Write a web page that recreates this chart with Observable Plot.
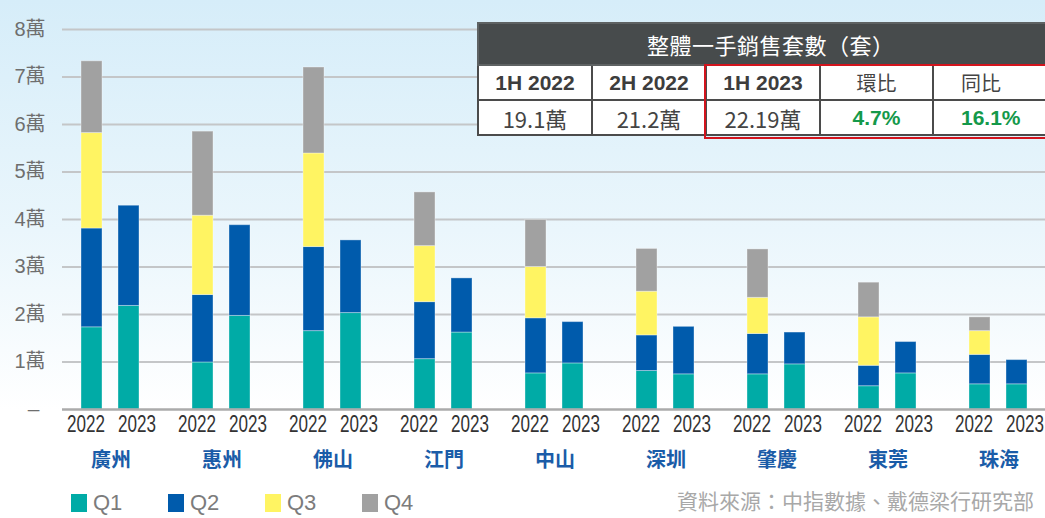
<!DOCTYPE html>
<html>
<head>
<meta charset="utf-8">
<script src="https://cdn.jsdelivr.net/npm/d3@7"></script>
<script src="https://cdn.jsdelivr.net/npm/@observablehq/plot@0.6"></script>
<style>
  html, body { margin: 0; padding: 0; overflow: hidden; }
  #page {
    position: relative; width: 1045px; height: 518px; overflow: hidden;
    background: linear-gradient(to bottom, #d6edf9 0px, #eaf6fc 230px, #ffffff 410px, #ffffff 518px);
    font-family: "Noto Sans CJK TC", sans-serif;
  }
  #chart { position: absolute; left: 0; top: 0; }
  #summary {
    position: absolute; left: 477px; top: 22px; border-collapse: collapse;
    background: #ffffff; table-layout: fixed; width: 600px;
  }
  #summary td { border: 2px solid #4b4b4b; text-align: center; padding: 0; color: #444; overflow: hidden; white-space: nowrap; }
  #summary .title td { background: #474b4c; color: #fff; height: 40px; font-size: 22px; letter-spacing: 0.5px; border-color: #5e6263; text-align: left; padding-left: 168px; }
  #summary .hdr td { height: 33px; font-size: 20px; }
  #summary .val td { height: 33px; font-size: 22px; }
  #summary .num { font-family: "Liberation Sans", Arial, sans-serif; font-size: 21px !important; }
  #summary .bold { font-weight: bold; color: #3d3d3d; }
  #summary .green { color: #14994a; font-weight: bold; font-family: "Liberation Sans", Arial, sans-serif; font-size: 21px !important; }
  #summary .last { text-align: left; padding-left: 27px; }
  #redbox { position: absolute; left: 704px; top: 64px; width: 400px; height: 75px; border: 2px solid #d3141d; box-sizing: border-box; pointer-events: none; }
  #legend { position: absolute; top: 491px; left: 0; height: 24px; }
  .lg { position: absolute; top: 0; display: flex; align-items: center; }
  .sw { width: 16px; height: 18px; display: inline-block; }
  .lt { margin-left: 6px; font-family: "Liberation Sans", sans-serif; font-size: 22px; color: #7c7c7c; line-height: 24px; }
  #source { position: absolute; right: 11px; top: 487px; font-size: 21px; color: #a8a8a8; line-height: 26px; }
</style>
</head>
<body>
<div id="page">
  <div id="chart"></div>
  <table id="summary"></table>
  <div id="redbox"></div>
  <div id="legend"></div>
  <div id="source"></div>
</div>
<script>
// ---- data (units: 套) ----
const cities = ["廣州", "惠州", "佛山", "江門", "中山", "深圳", "肇慶", "東莞", "珠海"];
const years = ["2022", "2023"];
const quarters = ["Q1", "Q2", "Q3", "Q4"];
const q1_2022 = [17300, 9900, 16500, 10600, 7600, 8100, 7400, 4900, 5300];
const q2_2022 = [20800, 14200, 17700, 12000, 11600, 7500, 8500, 4300, 6200];
const q3_2022 = [20100, 16700, 19700, 11800, 10800, 9200, 7600, 10200, 5000];
const q4_2022 = [15100, 17700, 18100, 11300, 9900, 9000, 10200, 7300, 2900];
const q1_2023 = [21800, 19700, 20300, 16200, 9700, 7400, 9500, 7600, 5300];
const q2_2023 = [21100, 19100, 15300, 11400, 8700, 10000, 6700, 6600, 5100];
const quarterColors = ["#00aba6", "#005bac", "#fff462", "#a1a1a1"];
const yTicks = [0, 10000, 20000, 30000, 40000, 50000, 60000, 70000, 80000];
const summaryTitle = "整體一手銷售套數（套）";
const summaryHeaders = ["1H 2022", "2H 2022", "1H 2023", "環比", "同比"];
const summaryValues = ["19.1萬", "21.2萬", "22.19萬", "4.7%", "16.1%"];
const sourceText = "資料來源：中指數據、戴德梁行研究部";

// ---- build table for Plot ----
const series2022 = [q1_2022, q2_2022, q3_2022, q4_2022];
const series2023 = [q1_2023, q2_2023];
const rows = [];
cities.forEach((c, i) => {
  series2022.forEach((s, qi) => rows.push({slot: c + "|2022", city: c, year: "2022", q: quarters[qi], value: s[i]}));
  series2023.forEach((s, qi) => rows.push({slot: c + "|2023", city: c, year: "2023", q: quarters[qi], value: s[i]}));
});
const slots = cities.flatMap(c => [c + "|2022", c + "|2023", c + "|gap"]);
const yearLabels = cities.flatMap(c => years.map(y => ({slot: c + "|" + y, year: y})));

const step = 37.85;
const x0 = 62;
const W = 1045, H = 475;

const font = "'Liberation Sans', 'Noto Sans CJK TC', sans-serif";

const chart = Plot.plot({
  width: W, height: H,
  marginLeft: x0, marginRight: 0, marginTop: 29, marginBottom: 66,
  style: {background: "transparent", overflow: "hidden", fontFamily: font},
  x: {domain: slots, range: [x0, x0 + slots.length * step], paddingInner: 0.43, paddingOuter: 0.215, axis: null},
  y: {domain: [0, 80000], axis: null},
  color: {domain: quarters, range: quarterColors},
  marks: [
    Plot.ruleY(yTicks.filter(d => d > 0), {stroke: "#c4c6c8", strokeWidth: 2}),
    Plot.barY(rows, {x: "slot", y: "value", fill: "q", stroke: "#ffffff", strokeOpacity: 0.35, strokeWidth: 1}),
    Plot.ruleY([0], {stroke: "#ababab", strokeWidth: 2.5}),
    Plot.text(yTicks.filter(d => d > 0), {y: d => d, text: d => (d / 10000) + "萬", frameAnchor: "left", textAnchor: "end", dx: -17, fontSize: 20, fill: "#6e6e6e"}),
    Plot.text([0], {y: d => d, text: () => "–", frameAnchor: "left", textAnchor: "middle", dx: -29, fontSize: 21, fill: "#6e6e6e"}),
    Plot.text(yearLabels.filter(d => d.year === "2022"), {x: "slot", text: "year", frameAnchor: "bottom", dy: 22, dx: -6, fontSize: 23, fill: "#333"}),
    Plot.text(yearLabels.filter(d => d.year === "2023"), {x: "slot", text: "year", frameAnchor: "bottom", dy: 22, dx: 8, fontSize: 23, fill: "#333"}),
    Plot.text(cities, {x: d => d + "|2022", text: d => d, frameAnchor: "bottom", dy: 57, dx: step / 2, fontSize: 20, fontWeight: "bold", fill: "#1a5ca8", fontFamily: "'Noto Sans CJK TC', sans-serif"})
  ]
});
// condense the year labels like the reference's narrow face
chart.querySelectorAll("text").forEach(t => {
  if (years.includes(t.textContent.trim())) {
    t.setAttribute("textLength", 38);
    t.setAttribute("lengthAdjust", "spacingAndGlyphs");
  }
});
document.getElementById("chart").appendChild(chart);

// ---- summary table ----
const tbl = document.getElementById("summary");
const cg = document.createElement("colgroup");
[114, 114, 114, 113, 145].forEach(w => { const c = document.createElement("col"); c.style.width = w + "px"; cg.appendChild(c); });
tbl.appendChild(cg);
const tb = document.createElement("tbody");
tbl.appendChild(tb);
const trT = tb.insertRow();
const tdT = trT.insertCell(); tdT.colSpan = 5; tdT.textContent = summaryTitle;
trT.className = "title";
const trH = tb.insertRow(); trH.className = "hdr";
summaryHeaders.forEach((h, i) => {
  const td = trH.insertCell(); td.textContent = h;
  if (i < 3) td.className = "num bold";
  if (i === 4) td.className = "last";
});
const trV = tb.insertRow(); trV.className = "val";
summaryValues.forEach((v, i) => {
  const td = trV.insertCell(); td.textContent = v;
  td.className = i < 3 ? "" : "green";
  if (i === 4) td.className += " last";
});

// ---- legend ----
const lg = document.getElementById("legend");
quarters.forEach((q, i) => {
  const item = document.createElement("div");
  item.className = "lg";
  item.style.left = (71 + i * 97) + "px";
  item.innerHTML = `<span class="sw" style="background:${quarterColors[i]}"></span><span class="lt">${q}</span>`;
  lg.appendChild(item);
});
document.getElementById("source").textContent = sourceText;
</script>
</body>
</html>
